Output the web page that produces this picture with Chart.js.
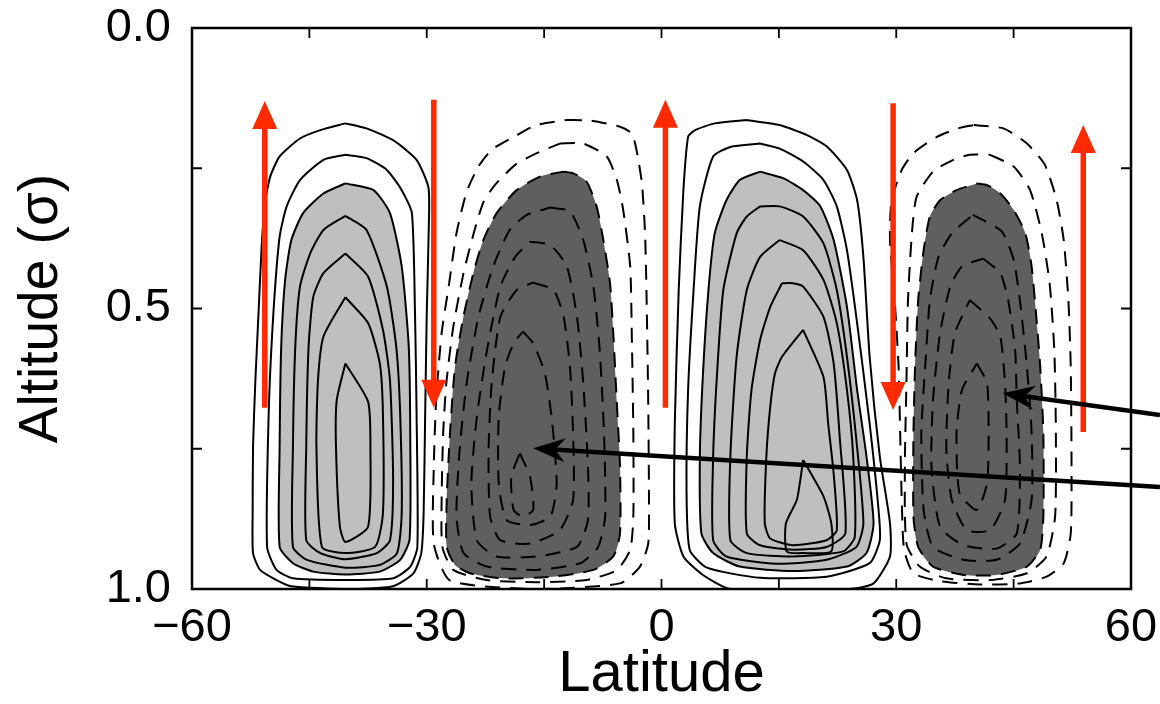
<!DOCTYPE html>
<html>
<head>
<meta charset="utf-8">
<script src="https://cdn.jsdelivr.net/npm/chart.js"></script>
<style>
  html, body { margin: 0; padding: 0; background: #fff; }
  #wrap { width: 1160px; height: 704px; }
</style>
</head>
<body>
<div id="wrap"><canvas id="chart" width="1160" height="704"></canvas></div>
<script>
// axes
const latTicks = [-60, -30, 0, 30, 60];
const sigmaTicks = [0.0, 0.5, 1.0];

// streamfunction contours, [latitude, sigma]
// southern cell (positive, solid)
const cellA1 = [[-40.4,0.170],[-37.7,0.179],[-34.3,0.200],[-31.3,0.235],[-29.8,0.283],[-29.7,0.330],[-30.0,0.509],[-30.2,0.687],[-30.4,0.865],[-30.7,0.936],[-31.7,0.972],[-34.3,0.995],[-40.4,1.0],[-47.3,0.995],[-49.2,0.984],[-51.3,0.966],[-52.2,0.936],[-52.25,0.865],[-52.2,0.746],[-51.9,0.628],[-51.5,0.509],[-51.1,0.390],[-50.7,0.313],[-50.0,0.265],[-48.8,0.229],[-46.2,0.197],[-43.6,0.182],[-40.4,0.170]];
const cellA2 = [[-40.4,0.226],[-37.7,0.232],[-35.1,0.253],[-33.2,0.289],[-31.9,0.330],[-31.5,0.509],[-31.3,0.687],[-31.2,0.925],[-32.1,0.960],[-34.3,0.981],[-40.4,0.984],[-47.1,0.981],[-49.2,0.966],[-50.4,0.925],[-50.2,0.687],[-49.6,0.509],[-48.8,0.372],[-47.9,0.318],[-46.2,0.271],[-43.2,0.235],[-40.4,0.226]];
const cellA3 = [[-40.4,0.277],[-36.8,0.289],[-34.7,0.330],[-33.2,0.425],[-32.3,0.568],[-32.1,0.746],[-32.2,0.912],[-33.4,0.948],[-36.0,0.969],[-40.4,0.974],[-44.5,0.969],[-47.1,0.954],[-48.8,0.925],[-48.8,0.746],[-48.6,0.568],[-48.1,0.449],[-47.3,0.378],[-45.8,0.330],[-43.2,0.295],[-40.4,0.277]];
const cellA4 = [[-40.4,0.335],[-37.7,0.360],[-35.1,0.461],[-33.9,0.568],[-33.4,0.687],[-33.2,0.865],[-33.8,0.936],[-36.0,0.957],[-40.4,0.962],[-45.3,0.948],[-47.1,0.925],[-47.1,0.746],[-46.8,0.568],[-46.2,0.461],[-44.9,0.402],[-43.2,0.360],[-40.4,0.335]];
const cellA5 = [[-40.4,0.402],[-37.5,0.443],[-35.6,0.538],[-34.7,0.628],[-34.3,0.806],[-34.7,0.913],[-36.4,0.936],[-40.4,0.947],[-43.6,0.936],[-45.4,0.913],[-45.4,0.746],[-45.1,0.568],[-44.5,0.479],[-43.2,0.437],[-40.4,0.402]];
const cellA6 = [[-40.4,0.480],[-37.5,0.526],[-36.0,0.598],[-35.6,0.687],[-35.6,0.865],[-36.6,0.925],[-40.4,0.936],[-43.4,0.925],[-44.1,0.746],[-43.9,0.628],[-43.2,0.550],[-40.4,0.480]];
const cellA7 = [[-40.4,0.598],[-37.5,0.666],[-37.2,0.746],[-37.5,0.889],[-40.4,0.916],[-41.1,0.889],[-41.6,0.746],[-41.5,0.663],[-40.4,0.598]];

// southern tropical cell (negative, dashed)
const cellB1 = [[-12.1,0.164],[-9.1,0.165],[-5.3,0.176],[-3.8,0.188],[-3.2,0.217],[-2.5,0.277],[-2.1,0.366],[-1.9,0.485],[-1.7,0.663],[-1.6,0.841],[-1.7,0.919],[-2.75,0.960],[-5.3,0.990],[-16.0,1.0],[-27.0,0.985],[-29.1,0.919],[-29.1,0.782],[-28.8,0.663],[-28.1,0.544],[-27.2,0.461],[-26.2,0.366],[-24.9,0.292],[-23.4,0.247],[-21.7,0.217],[-18.5,0.191],[-16.0,0.173],[-12.1,0.164]];
const cellB2 = [[-13.0,0.206],[-10.0,0.206],[-7.0,0.229],[-5.7,0.271],[-4.9,0.324],[-4.0,0.425],[-3.8,0.544],[-3.6,0.722],[-3.6,0.871],[-4.0,0.930],[-5.7,0.966],[-9.6,0.984],[-16.0,0.988],[-22.3,0.984],[-26.6,0.966],[-28.0,0.925],[-28.1,0.841],[-27.9,0.722],[-27.5,0.633],[-26.6,0.532],[-25.3,0.437],[-24.0,0.366],[-22.8,0.312],[-21.3,0.280],[-18.7,0.244],[-16.4,0.226],[-13.0,0.206]];
const cellB3 = [[-12.55,0.256],[-11.27,0.259],[-9.56,0.274],[-8.29,0.318],[-7.43,0.378],[-6.58,0.455],[-6.16,0.544],[-5.73,0.663],[-5.30,0.782],[-5.30,0.901],[-6.16,0.942],[-8.71,0.966],[-13.82,0.978],[-20.21,0.981],[-24.47,0.972],[-26.39,0.957],[-27.45,0.925],[-27.45,0.841],[-27.03,0.722],[-26.39,0.604],[-25.32,0.515],[-24.05,0.437],[-22.77,0.378],[-21.07,0.330],[-18.51,0.289],[-15.53,0.265],[-12.55,0.256]];
const cellB4 = [[-14.2,0.320],[-11.7,0.327],[-10.0,0.378],[-8.7,0.461],[-7.9,0.574],[-7.35,0.722],[-7.2,0.871],[-8.1,0.925],[-10.4,0.954],[-16.0,0.966],[-22.3,0.960],[-25.3,0.936],[-26.2,0.871],[-25.8,0.752],[-24.9,0.633],[-23.4,0.515],[-21.5,0.425],[-19.4,0.360],[-17.2,0.333],[-14.2,0.320]];
const cellB5 = [[-16.8,0.381],[-14.2,0.387],[-12.1,0.425],[-10.8,0.515],[-10.0,0.633],[-9.4,0.782],[-9.4,0.877],[-10.8,0.925],[-16.0,0.942],[-21.1,0.942],[-23.6,0.913],[-24.3,0.812],[-23.6,0.693],[-22.3,0.574],[-20.6,0.461],[-18.7,0.408],[-16.8,0.381]];
const cellB6 = [[-16.4,0.454],[-13.8,0.467],[-12.5,0.515],[-11.7,0.604],[-11.3,0.722],[-11.3,0.841],[-13.0,0.895],[-16.8,0.919],[-20.6,0.913],[-21.9,0.871],[-22.1,0.752],[-21.7,0.633],[-20.6,0.515],[-18.5,0.467],[-16.4,0.454]];
const cellB7 = [[-17.7,0.541],[-16.4,0.562],[-14.9,0.616],[-14.0,0.699],[-13.4,0.812],[-14.2,0.871],[-16.8,0.886],[-19.8,0.877],[-20.8,0.812],[-20.8,0.693],[-20.0,0.604],[-18.9,0.562],[-17.7,0.541]];
const cellB8 = [[-18.1,0.758],[-16.8,0.800],[-16.4,0.859],[-17.7,0.871],[-18.9,0.859],[-19.2,0.800],[-18.1,0.758]];

// northern tropical cell (positive, solid)
const cellC1 = [[10.9,0.164],[15.1,0.173],[18.6,0.191],[21.1,0.211],[23.7,0.253],[25.0,0.307],[25.8,0.408],[26.6,0.586],[27.9,0.764],[29.2,0.883],[29.2,0.942],[27.1,0.990],[24.0,1.0],[8.8,1.0],[5.3,0.975],[2.8,0.942],[1.7,0.883],[1.7,0.705],[2.2,0.467],[2.8,0.289],[3.4,0.194],[4.3,0.182],[6.8,0.170],[10.9,0.164]];
const cellC2 = [[12.6,0.206],[15.1,0.215],[18.1,0.238],[20.7,0.271],[22.4,0.318],[23.7,0.396],[25.0,0.526],[26.6,0.705],[27.7,0.853],[27.9,0.913],[26.6,0.954],[21.1,0.978],[12.6,0.980],[5.8,0.962],[3.6,0.930],[3.2,0.824],[3.4,0.645],[4.1,0.467],[4.9,0.318],[6.6,0.229],[8.8,0.212],[12.6,0.206]];
const cellC3 = [[12.6,0.256],[15.6,0.268],[18.1,0.289],[20.3,0.318],[22.0,0.378],[23.7,0.497],[25.0,0.645],[26.2,0.764],[27.1,0.883],[26.2,0.936],[23.7,0.960],[16.8,0.968],[10.0,0.960],[6.6,0.936],[5.1,0.901],[4.9,0.764],[5.3,0.616],[6.0,0.467],[6.8,0.366],[8.3,0.307],[10.0,0.271],[12.6,0.256]];
const cellC4 = [[12.6,0.318],[15.1,0.318],[18.1,0.336],[20.7,0.384],[22.4,0.467],[23.7,0.586],[24.9,0.734],[25.8,0.883],[24.9,0.925],[21.1,0.948],[14.7,0.955],[8.3,0.942],[6.6,0.913],[6.6,0.764],[7.1,0.616],[7.9,0.467],[9.6,0.366],[10.9,0.336],[12.6,0.318]];
const cellC5 = [[15.1,0.378],[18.1,0.396],[20.7,0.449],[22.4,0.526],[23.7,0.645],[24.5,0.764],[24.7,0.907],[23.2,0.933],[16.8,0.942],[10.9,0.936],[8.8,0.913],[8.8,0.764],[9.6,0.586],[10.9,0.467],[12.6,0.408],[15.1,0.378]];
const cellC6 = [[15.4,0.455],[16.8,0.455],[18.1,0.461],[20.7,0.515],[22.0,0.598],[22.8,0.734],[23.5,0.901],[21.1,0.925],[16.8,0.930],[12.6,0.922],[10.9,0.901],[10.9,0.764],[11.5,0.645],[12.6,0.556],[13.9,0.497],[15.4,0.455]];
const cellC7 = [[18.1,0.538],[20.7,0.622],[21.3,0.705],[22.0,0.794],[22.4,0.895],[21.1,0.913],[16.8,0.922],[13.9,0.910],[13.2,0.883],[13.4,0.764],[13.9,0.675],[14.5,0.616],[15.4,0.586],[18.1,0.538]];
const cellC8 = [[18.1,0.770],[20.7,0.835],[21.7,0.883],[21.7,0.933],[18.1,0.936],[16.0,0.933],[15.9,0.883],[17.3,0.841],[18.1,0.770]];

// northern mid-latitude cell (negative, dashed)
const cellD1 = [[39.9,0.173],[43.7,0.179],[46.7,0.206],[49.0,0.244],[50.5,0.307],[51.4,0.378],[52.0,0.485],[52.3,0.604],[52.4,0.782],[52.3,0.901],[51.4,0.954],[49.2,0.978],[45.8,0.990],[40.7,0.992],[35.6,0.986],[32.2,0.972],[31.0,0.930],[30.7,0.841],[30.5,0.722],[30.3,0.604],[29.8,0.485],[29.2,0.378],[29.4,0.307],[30.7,0.253],[32.2,0.223],[35.2,0.194],[37.9,0.179],[39.9,0.173]];
const cellD2 = [[42.0,0.226],[45.0,0.247],[47.1,0.289],[48.6,0.366],[49.6,0.455],[50.2,0.574],[50.4,0.722],[50.3,0.871],[49.2,0.942],[46.7,0.972],[42.0,0.984],[36.4,0.981],[33.0,0.960],[31.3,0.919],[31.1,0.782],[31.3,0.633],[31.5,0.485],[32.0,0.366],[32.6,0.301],[34.7,0.256],[37.3,0.235],[39.4,0.226],[42.0,0.226]];
const cellD3 = [[40.3,0.277],[41.6,0.280],[43.3,0.295],[45.0,0.324],[46.5,0.366],[47.3,0.425],[47.9,0.515],[48.4,0.604],[48.8,0.722],[48.8,0.871],[48.4,0.930],[46.7,0.960],[42.8,0.975],[38.6,0.975],[34.7,0.960],[32.8,0.925],[32.2,0.871],[32.2,0.722],[32.4,0.604],[32.8,0.485],[33.5,0.396],[34.3,0.336],[35.6,0.307],[37.7,0.289],[40.3,0.277]];
const cellD4 = [[39.8,0.333],[43.5,0.363],[45.0,0.413],[45.8,0.485],[46.7,0.604],[47.3,0.722],[47.3,0.841],[45.8,0.919],[42.8,0.948],[38.6,0.948],[34.7,0.925],[33.5,0.859],[33.2,0.722],[33.7,0.604],[34.3,0.485],[35.4,0.408],[37.1,0.366],[39.8,0.333]];
const cellD5 = [[41.1,0.411],[43.3,0.437],[44.3,0.485],[45.2,0.574],[45.4,0.663],[45.8,0.782],[45.4,0.901],[42.8,0.928],[38.6,0.922],[35.6,0.889],[34.5,0.782],[34.7,0.663],[35.6,0.544],[36.9,0.461],[38.4,0.425],[41.1,0.411]];
const cellD6 = [[39.4,0.485],[42.0,0.518],[43.3,0.550],[43.9,0.633],[44.1,0.722],[43.9,0.841],[42.0,0.895],[39.0,0.895],[37.1,0.841],[36.4,0.752],[36.7,0.633],[37.5,0.544],[39.4,0.485]];
const cellD7 = [[40.3,0.598],[41.6,0.633],[41.8,0.722],[41.6,0.812],[40.3,0.859],[38.1,0.830],[37.7,0.722],[38.4,0.645],[40.3,0.598]];

// red vertical arrows: latitude, start sigma, tip sigma
const flowLat = [-50.7, -29.1, 0.5, 29.6, 53.9];
const flowFrom = [0.677, 0.128, 0.677, 0.134, 0.720];
const flowTo = [0.130, 0.677, 0.128, 0.681, 0.173];

// black pointer arrows: start and tip, [latitude, sigma]
const pointerFrom = [[63.7, 0.690], [63.7, 0.818]];
const pointerTo = [[43.6, 0.651], [-16.4, 0.749]];

const LIGHT = '#bfbfbf';
const DARK = '#5f5f5f';
const RED = '#ff2a00';

const solid = [cellA1, cellA2, cellA3, cellA4, cellA5, cellA6, cellA7,
               cellC1, cellC2, cellC3, cellC4, cellC5, cellC6, cellC7, cellC8];
const dashed = [cellB1, cellB2, cellB3, cellB4, cellB5, cellB6, cellB7, cellB8,
                cellD1, cellD2, cellD3, cellD4, cellD5, cellD6, cellD7];
const fills = [[cellA3, LIGHT], [cellC3, LIGHT], [cellB3, DARK], [cellD3, DARK]];

const toPts = (arr) => arr.map(([x, y]) => ({ x, y }));

const datasets = [];
fills.forEach(([arr, col]) => {
  datasets.push({
    data: toPts(arr), showLine: true, fill: 'shape', backgroundColor: col,
    borderWidth: 0, pointRadius: 0, tension: 0.25, order: 10,
  });
});
solid.forEach((arr) => {
  datasets.push({
    data: toPts(arr), showLine: true, fill: false, borderColor: '#000',
    borderWidth: 2, pointRadius: 0, tension: 0.2, order: 1,
  });
});
dashed.forEach((arr) => {
  datasets.push({
    data: toPts(arr), showLine: true, fill: false, borderColor: '#000',
    borderWidth: 2, borderDash: [15, 10], pointRadius: 0, tension: 0.2, order: 1,
  });
});

function drawRedArrow(ctx, x, y0, y1) {
  const dir = Math.sign(y1 - y0);
  const headLen = 28, halfW = 12.5;
  ctx.strokeStyle = RED;
  ctx.fillStyle = RED;
  ctx.lineWidth = 5.5;
  ctx.beginPath();
  ctx.moveTo(x, y0);
  ctx.lineTo(x, y1 - dir * (headLen - 4));
  ctx.stroke();
  ctx.beginPath();
  ctx.moveTo(x, y1);
  ctx.lineTo(x - halfW, y1 - dir * headLen);
  ctx.lineTo(x + halfW, y1 - dir * headLen);
  ctx.closePath();
  ctx.fill();
}

function drawPointer(ctx, x0, y0, x1, y1) {
  const ang = Math.atan2(y1 - y0, x1 - x0);
  const headLen = 32, halfW = 12, notch = 22;
  const c = Math.cos(ang), s = Math.sin(ang);
  ctx.strokeStyle = '#000';
  ctx.fillStyle = '#000';
  ctx.lineWidth = 4.5;
  ctx.beginPath();
  ctx.moveTo(x0, y0);
  ctx.lineTo(x1 - c * (notch - 2), y1 - s * (notch - 2));
  ctx.stroke();
  ctx.beginPath();
  ctx.moveTo(x1, y1);
  ctx.lineTo(x1 - c * headLen - s * halfW, y1 - s * headLen + c * halfW);
  ctx.lineTo(x1 - c * notch, y1 - s * notch);
  ctx.lineTo(x1 - c * headLen + s * halfW, y1 - s * headLen - c * halfW);
  ctx.closePath();
  ctx.fill();
}

const framePlugin = {
  id: 'frame',
  afterDatasetsDraw(chart) {
    const { ctx, chartArea: a, scales: { x, y } } = chart;
    ctx.save();
    ctx.lineCap = 'butt';
    flowLat.forEach((lat, i) => {
      drawRedArrow(ctx, x.getPixelForValue(lat),
        y.getPixelForValue(flowFrom[i]), y.getPixelForValue(flowTo[i]));
    });
    pointerFrom.forEach((p, i) => {
      const q = pointerTo[i];
      drawPointer(ctx, x.getPixelForValue(p[0]), y.getPixelForValue(p[1]),
        x.getPixelForValue(q[0]), y.getPixelForValue(q[1]));
    });
    ctx.strokeStyle = '#000';
    ctx.lineWidth = 2.5;
    ctx.strokeRect(a.left, a.top, a.right - a.left, a.bottom - a.top);
    ctx.lineWidth = 1.8;
    const len = 10;
    ctx.beginPath();
    x.ticks.forEach((t) => {
      const px = x.getPixelForValue(t.value);
      ctx.moveTo(px, a.bottom); ctx.lineTo(px, a.bottom - len);
      ctx.moveTo(px, a.top); ctx.lineTo(px, a.top + len);
    });
    y.ticks.forEach((t) => {
      const py = y.getPixelForValue(t.value);
      ctx.moveTo(a.left, py); ctx.lineTo(a.left + len, py);
      ctx.moveTo(a.right, py); ctx.lineTo(a.right - len, py);
    });
    ctx.stroke();
    ctx.restore();
  },
};

const FONT = "'Liberation Sans', Arial, Helvetica, sans-serif";

new Chart(document.getElementById('chart'), {
  type: 'scatter',
  data: { datasets },
  plugins: [framePlugin],
  options: {
    responsive: false,
    animation: false,
    devicePixelRatio: 1,
    layout: { padding: { top: 28, right: 29, left: 0, bottom: 0 } },
    plugins: { legend: { display: false }, tooltip: { enabled: false } },
    scales: {
      x: {
        type: 'linear',
        min: -60, max: 60,
        grid: { display: false },
        border: { display: false },
        ticks: {
          stepSize: 15,
          padding: 3,
          color: '#000',
          font: { family: FONT, size: 47 },
          maxRotation: 0,
          autoSkip: false,
          callback: (v) => latTicks.includes(v) ? (v < 0 ? '\u2212' + Math.abs(v) : String(v)) : '',
        },
        title: {
          display: true, text: 'Latitude', color: '#000',
          font: { family: FONT, size: 58, lineHeight: 1 },
          padding: { top: 0, bottom: 0 },
        },
        afterFit: (scale) => {
          scale.height = 115;
          scale.paddingLeft = 0;
          scale.paddingRight = 0;
        },
      },
      y: {
        type: 'linear',
        min: 0, max: 1, reverse: true,
        grid: { display: false },
        border: { display: false },
        ticks: {
          stepSize: 0.25,
          padding: 13,
          color: '#000',
          font: { family: FONT, size: 47 },
          autoSkip: false,
          callback: (v) => sigmaTicks.some((s) => Math.abs(s - v) < 1e-6) ? v.toFixed(1) : '',
        },
        title: {
          display: true, text: 'Altitude (\u03c3)', color: '#000',
          font: { family: FONT, size: 55, lineHeight: 1 },
          padding: { top: 14, bottom: 0 },
        },
        afterFit: (scale) => {
          scale.width = 192;
          scale.paddingTop = 0;
          scale.paddingBottom = 0;
        },
      },
    },
  },
});
</script>
</body>
</html>
